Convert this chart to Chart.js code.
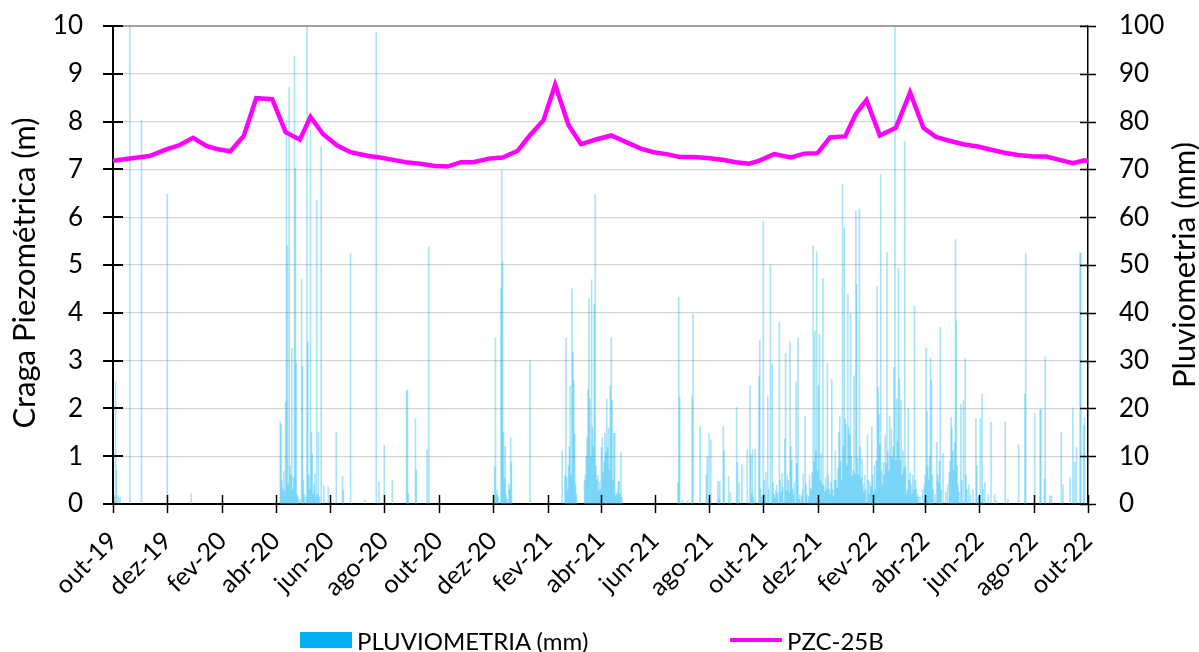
<!DOCTYPE html>
<html lang="pt">
<head>
<meta charset="utf-8">
<title>PZC-25B — carga piezométrica e pluviometria</title>
<script src="https://cdn.jsdelivr.net/npm/chart.js@4.4.1/dist/chart.umd.min.js"></script>
<style>
  html, body { margin: 0; padding: 0; background: #fff; }
  #wrap { position: relative; width: 1199px; height: 652px; font-family: Lato, "Liberation Sans", sans-serif; }
  #legend { position: absolute; left: 0; top: 628px; width: 1199px; height: 24px; }
  .item { position: absolute; top: 0; height: 24px; display: flex; align-items: center;
          font-size: 24px; color: #000; white-space: nowrap; }
  .sw { display: inline-block; margin-right: 5px; }
</style>
</head>
<body>
<div id="wrap">
  <canvas id="c" width="1199" height="652"></canvas>
  <div id="legend"></div>
</div>
<script>
// ---- data ---------------------------------------------------------------
const seriesStart = '2019-10-01';
const axisEnd = '2022-10-01';

const tickDates = ['2019-10-01','2019-12-01','2020-02-01','2020-04-01','2020-06-01','2020-08-01',
                   '2020-10-01','2020-12-01','2021-02-01','2021-04-01','2021-06-01','2021-08-01',
                   '2021-10-01','2021-12-01','2022-02-01','2022-04-01','2022-06-01','2022-08-01','2022-10-01'];
const tickLabels = ['out-19','dez-19','fev-20','abr-20','jun-20','ago-20',
                    'out-20','dez-20','fev-21','abr-21','jun-21','ago-21',
                    'out-21','dez-21','fev-22','abr-22','jun-22','ago-22','out-22'];

// PZC-25B piezometric level (m), fortnightly readings
const levelDates = ['2019-10-01','2019-10-20','2019-11-11','2019-11-30','2019-12-15','2019-12-30',
  '2020-01-14','2020-01-27','2020-02-10','2020-02-25','2020-03-10','2020-03-28','2020-04-12','2020-04-28',
  '2020-05-10','2020-05-24','2020-06-09','2020-06-24','2020-07-14','2020-07-27','2020-08-11','2020-08-25',
  '2020-09-10','2020-09-27','2020-10-11','2020-10-26','2020-11-09','2020-11-28','2020-12-12','2020-12-29',
  '2021-01-12','2021-01-27','2021-02-09','2021-02-24','2021-03-10','2021-03-28','2021-04-13','2021-05-01',
  '2021-05-17','2021-05-31','2021-06-14','2021-06-29','2021-07-15','2021-07-30','2021-08-16','2021-08-31',
  '2021-09-15','2021-09-26','2021-10-13','2021-11-01','2021-11-16','2021-12-01','2021-12-15','2022-01-01',
  '2022-01-13','2022-01-25','2022-02-09','2022-02-27','2022-03-15','2022-03-30','2022-04-13','2022-04-28',
  '2022-05-15','2022-05-30','2022-06-14','2022-06-29','2022-07-14','2022-07-31','2022-08-15','2022-08-30',
  '2022-09-14','2022-09-27','2022-10-02'];
const levelValues = [7.18,7.23,7.28,7.42,7.51,7.66,
  7.49,7.42,7.38,7.70,8.49,8.47,7.78,7.62,
  8.10,7.74,7.50,7.36,7.28,7.25,7.20,7.15,
  7.12,7.07,7.06,7.15,7.15,7.23,7.25,7.39,
  7.72,8.03,8.77,7.93,7.53,7.63,7.71,7.56,
  7.43,7.36,7.32,7.26,7.26,7.24,7.20,7.15,
  7.12,7.18,7.32,7.25,7.33,7.34,7.67,7.69,
  8.16,8.45,7.71,7.87,8.61,7.87,7.68,7.60,
  7.52,7.48,7.41,7.35,7.30,7.27,7.27,7.20,
  7.13,7.19,7.17];

// daily rainfall (mm); rainDay = days after seriesStart, dry days omitted
const rainDay = [
  3,4,6,8,19,32,61,88,
  188,189,190,191,192,193,194,195,196,197,198,199,200,201,202,203,204,205,206,207,208,210,
  212,213,214,215,217,218,219,220,221,222,223,224,225,226,227,228,229,230,231,232,234,237,242,
  251,258,259,267,283,296,299,305,314,330,331,332,340,341,353,355,
  429,430,431,432,433,436,437,438,439,440,441,442,443,445,446,447,448,469,
  505,508,509,510,511,512,513,514,515,516,517,518,519,520,521,
  530,531,532,533,534,535,536,537,538,539,540,541,542,543,544,545,546,547,548,549,550,
  551,552,553,554,555,556,557,558,559,560,561,562,563,564,565,566,567,568,569,570,571,572,
  635,636,637,640,646,651,652,660,667,668,670,672,680,681,682,686,687,692,694,
  701,702,704,707,713,716,717,718,719,720,722,726,727,
  728,729,731,732,733,734,736,737,739,741,742,743,744,745,746,747,749,750,
  751,752,753,755,756,757,758,759,760,761,762,763,764,765,766,768,769,770,
  771,772,774,775,776,778,779,780,782,783,784,785,786,787,788,789,790,
  791,792,793,794,795,796,797,798,799,800,801,802,803,804,805,806,807,808,809,810,
  811,812,813,814,815,816,817,818,819,820,821,822,823,824,825,826,827,828,829,830,
  831,832,833,834,835,836,837,838,839,840,841,842,843,844,845,846,848,849,850,
  851,852,853,854,855,856,857,858,859,860,861,862,863,864,865,866,867,868,869,870,
  871,872,873,874,875,876,877,878,879,880,881,882,883,884,885,886,887,888,889,890,
  891,892,893,894,895,896,897,898,899,900,901,902,903,904,905,907,910,
  912,913,914,915,916,917,918,919,920,921,922,924,926,927,928,929,930,931,933,
  936,938,940,941,942,943,944,945,946,947,948,949,950,951,953,954,956,958,959,960,
  962,964,967,970,971,973,975,977,978,980,984,987,991,993,
  1003,1006,1018,1025,1026,1036,1042,1043,1047,1048,1053,1055,1066,1068,
  1076,1079,1081,1083,1087,1088,1091,1092
];
const rainMm = [
  25.6,7.0,1.7,1.4,100,80.3,64.8,2.2,
  17.2,16.6,4.9,3.0,6.8,2.5,21.3,80.3,54.0,4.0,87.1,8.0,6.0,32.6,3.0,5.6,93.7,70.2,29.4,2.0,1.5,1.0,
  47.0,28.8,5.0,2.0,1.5,100,33.9,6.0,3.0,78.3,15.0,10.5,2.0,4.0,6.3,1.5,63.6,2.0,15.0,1.5,74.7,3.8,3.6,
  15.0,5.8,2.9,52.5,0.9,98.7,4.7,12.2,5.0,23.8,23.8,2.2,17.9,7.2,11.4,53.8,
  7.8,34.8,2.0,3.0,1.5,45.0,69.9,50.7,15.0,5.4,12.0,2.0,1.0,4.2,3.0,13.9,8.7,30.0,
  11.0,5.9,34.8,5.6,3.0,8.0,12.0,24.7,6.0,45.0,31.8,25.8,14.6,4.0,2.0,
  4.9,6.0,10.0,14.0,24.0,42.9,22.0,9.8,46.9,16.0,12.0,41.8,64.8,8.0,5.0,6.0,2.8,4.7,3.0,11.8,13.9,
  6.6,9.0,14.8,10.8,22.0,11.8,15.9,7.0,24.7,34.8,21.7,5.0,14.8,14.8,1.7,2.0,2.5,4.7,4.7,2.0,10.8,1.4,
  4.5,43.3,22.3,0.8,0.7,22.4,39.7,16.2,6.1,9.8,14.8,13.4,4.7,1.3,4.7,16.2,11.1,5.7,2.4,
  20.2,8.7,4.4,8.2,11.4,24.7,10.3,2.1,11.4,1.4,11.5,26.6,34.3,
  3.2,1.5,59.2,4.9,2.0,6.5,22.6,3.0,50.0,29.3,4.5,2.1,1.2,2.8,4.0,2.2,38.0,5.0,
  2.5,6.4,3.5,13.6,31.5,2.8,6.0,4.9,2.4,34.1,12.0,9.1,3.2,1.8,4.5,25.6,8.4,34.8,
  1.0,2.0,1.5,3.0,6.3,18.3,4.2,2.0,1.6,5.9,3.4,2.9,6.5,54.0,8.7,36.2,11.1,
  52.8,7.0,24.7,35.5,5.0,10.5,4.1,47.2,3.8,2.5,5.5,3.0,29.4,6.0,3.1,2.0,4.5,26.1,3.0,1.6,
  5.0,11.1,4.9,3.3,7.5,15.0,18.3,9.0,5.0,66.9,12.0,57.8,17.8,16.7,8.0,43.9,16.0,14.4,39.9,10.0,
  5.9,7.0,26.8,6.3,61.3,45.9,9.5,6.0,61.7,12.0,5.5,9.4,4.0,2.5,6.0,3.0,14.4,5.0,2.0,
  4.5,3.5,16.2,6.0,2.5,8.0,3.0,9.0,45.6,24.4,18.8,12.5,68.9,7.0,4.0,8.7,6.0,14.3,8.5,52.6,
  11.1,7.0,18.3,10.0,15.7,9.5,12.0,28.6,100,9.2,22.0,13.0,49.3,26.1,9.0,21.6,6.0,11.1,7.3,75.8,
  8.0,2.1,3.0,19.9,5.0,6.4,4.0,2.0,6.0,3.0,41.5,5.0,3.1,1.5,2.0,1.5,3.0,
  4.0,6.0,32.6,19.4,8.0,5.0,10.0,30.5,25.8,6.0,3.0,2.0,12.9,6.0,4.5,9.0,37.0,3.0,10.6,
  2.5,4.0,6.5,9.0,18.1,16.0,11.0,7.0,12.9,55.3,38.3,8.0,4.0,2.5,20.8,5.0,21.6,30.5,6.0,3.0,
  4.0,2.0,3.0,17.9,8.0,1.5,17.9,23.0,3.0,4.5,2.0,17.1,2.1,0.7,
  17.2,1.0,12.4,23.0,52.5,19.0,19.7,19.9,5.2,30.8,1.7,1.7,15.0,4.0,
  5.6,20.1,8.7,11.8,52.5,52.5,16.4,18.1
];

const leftTitle = 'Craga Piezométrica (m)';
const rightTitle = 'Pluviometria (mm)';

// ---- helpers --------------------------------------------------------------
const DAY = 86400000;
const t0 = Date.parse(seriesStart + 'T00:00:00Z');
const dayOf = s => Math.round((Date.parse(s + 'T00:00:00Z') - t0) / DAY);
const tickDays = tickDates.map(dayOf);

const FONT = 'Lato, "Liberation Sans", sans-serif';

// y-axis titles, both reading bottom-to-top
const axisTitles = {
  id: 'axisTitles',
  afterDraw(chart) {
    const { ctx, chartArea: a } = chart;
    const midY = (a.top + a.bottom) / 2;
    ctx.save();
    ctx.font = '31px ' + FONT;
    ctx.fillStyle = '#000';
    ctx.textAlign = 'center';
    ctx.textBaseline = 'middle';
    [[a.left - 88, midY + 8, leftTitle], [a.right + 97, midY, rightTitle]].forEach(([x, y, text]) => {
      ctx.save();
      ctx.translate(x, y);
      ctx.rotate(-Math.PI / 2);
      ctx.fillText(text, 0, 0);
      ctx.restore();
    });
    ctx.restore();
  }
};

// tick marks that cross the axis lines
const crossTicks = {
  id: 'crossTicks',
  afterDraw(chart) {
    const { ctx, chartArea: a, scales } = chart;
    const seg = (x1, y1, x2, y2) => { ctx.beginPath(); ctx.moveTo(x1, y1); ctx.lineTo(x2, y2); ctx.stroke(); };
    ctx.save();
    ctx.strokeStyle = '#000';
    ctx.lineWidth = 2;
    scales.y.ticks.forEach(t => {
      const py = Math.round(scales.y.getPixelForValue(t.value));
      seg(a.left - 10, py, a.left + 10, py);
    });
    ctx.lineWidth = 1.5;
    scales.x.ticks.forEach(t => {
      const px = Math.round(scales.x.getPixelForValue(t.value)) + 0.5;
      seg(px, a.bottom - 9, px, a.bottom + 9);
    });
    scales.y2.ticks.forEach(t => {
      const py = Math.round(scales.y2.getPixelForValue(t.value)) + 0.5;
      seg(a.right - 8, py, a.right + 8, py);
    });
    ctx.restore();
  }
};

// vertical axes: fixed width and no extra label overhang padding
const fixVertical = width => s => { s.width = width; s.paddingTop = 0; s.paddingBottom = 0; };

const tickFont = { family: FONT, size: 26 };

const chart = new Chart(document.getElementById('c'), {
  type: 'bar',
  data: {
    datasets: [
      {
        type: 'line',
        label: 'PZC-25B',
        data: levelDates.map((d, i) => ({ x: dayOf(d), y: levelValues[i] })),
        xAxisID: 'x',
        yAxisID: 'y',
        borderColor: '#FF00FF',
        backgroundColor: '#FF00FF',
        borderWidth: 4.5,
        pointRadius: 0,
        tension: 0,
        fill: false,
        order: 1
      },
      {
        type: 'bar',
        label: 'PLUVIOMETRIA (mm)',
        data: rainDay.map((d, i) => ({ x: d, y: rainMm[i] })),
        xAxisID: 'x',
        yAxisID: 'y2',
        backgroundColor: 'rgba(0,176,240,0.34)',
        borderWidth: 0,
        barThickness: 1,
        order: 2
      }
    ]
  },
  options: {
    responsive: false,
    animation: false,
    devicePixelRatio: 1,
    events: [],
    layout: { padding: { top: 26, left: 0, right: 0, bottom: 40 } },
    plugins: { legend: { display: false }, tooltip: { enabled: false } },
    scales: {
      x: {
        type: 'linear',
        min: 0,
        max: dayOf(axisEnd),
        offset: false,
        afterBuildTicks: s => { s.ticks = tickDays.map(v => ({ value: v })); },
        afterFit: s => { s.height = 108; },
        ticks: {
          autoSkip: false,
          minRotation: 45,
          maxRotation: 45,
          padding: 22,
          color: '#000',
          font: { family: FONT, size: 25 },
          callback: v => { const i = tickDays.indexOf(v); return i >= 0 ? tickLabels[i] : ''; }
        },
        grid: { display: false, drawTicks: false },
        border: { display: true, color: '#000', width: 2 }
      },
      y: {
        position: 'left',
        min: 0,
        max: 10,
        afterFit: fixVertical(113),
        ticks: { stepSize: 1, padding: 30, color: '#000', font: tickFont },
        grid: {
          drawTicks: false,
          color: c => (c.tick && c.tick.value === 10 ? '#a0a0a0' : '#d6d6d6'),
          lineWidth: c => (c.tick && c.tick.value === 10 ? 2 : 1.3)
        },
        border: { display: true, color: '#000', width: 2 }
      },
      y2: {
        position: 'right',
        min: 0,
        max: 100,
        afterFit: fixVertical(111),
        ticks: { stepSize: 10, padding: 31, color: '#000', font: tickFont },
        grid: { display: false, drawTicks: false },
        border: { display: true, color: '#000', width: 1.5 }
      }
    }
  },
  plugins: [axisTitles, crossTicks]
});

// legend below the plot, bars first then the level line
(function buildLegend() {
  const legend = document.getElementById('legend');
  const entries = [
    { ds: chart.data.datasets[1], left: 300, swatch: 'width:52px;height:16px;background:#00B0F0;' },
    { ds: chart.data.datasets[0], left: 730, swatch: 'width:52px;height:4px;background:#FF00FF;' }
  ];
  entries.forEach(e => {
    const item = document.createElement('div');
    item.className = 'item';
    item.style.left = e.left + 'px';
    const sw = document.createElement('span');
    sw.className = 'sw';
    sw.style.cssText = e.swatch;
    const label = document.createElement('span');
    label.textContent = e.ds.label;
    item.appendChild(sw);
    item.appendChild(label);
    legend.appendChild(item);
  });
})();
</script>
</body>
</html>
